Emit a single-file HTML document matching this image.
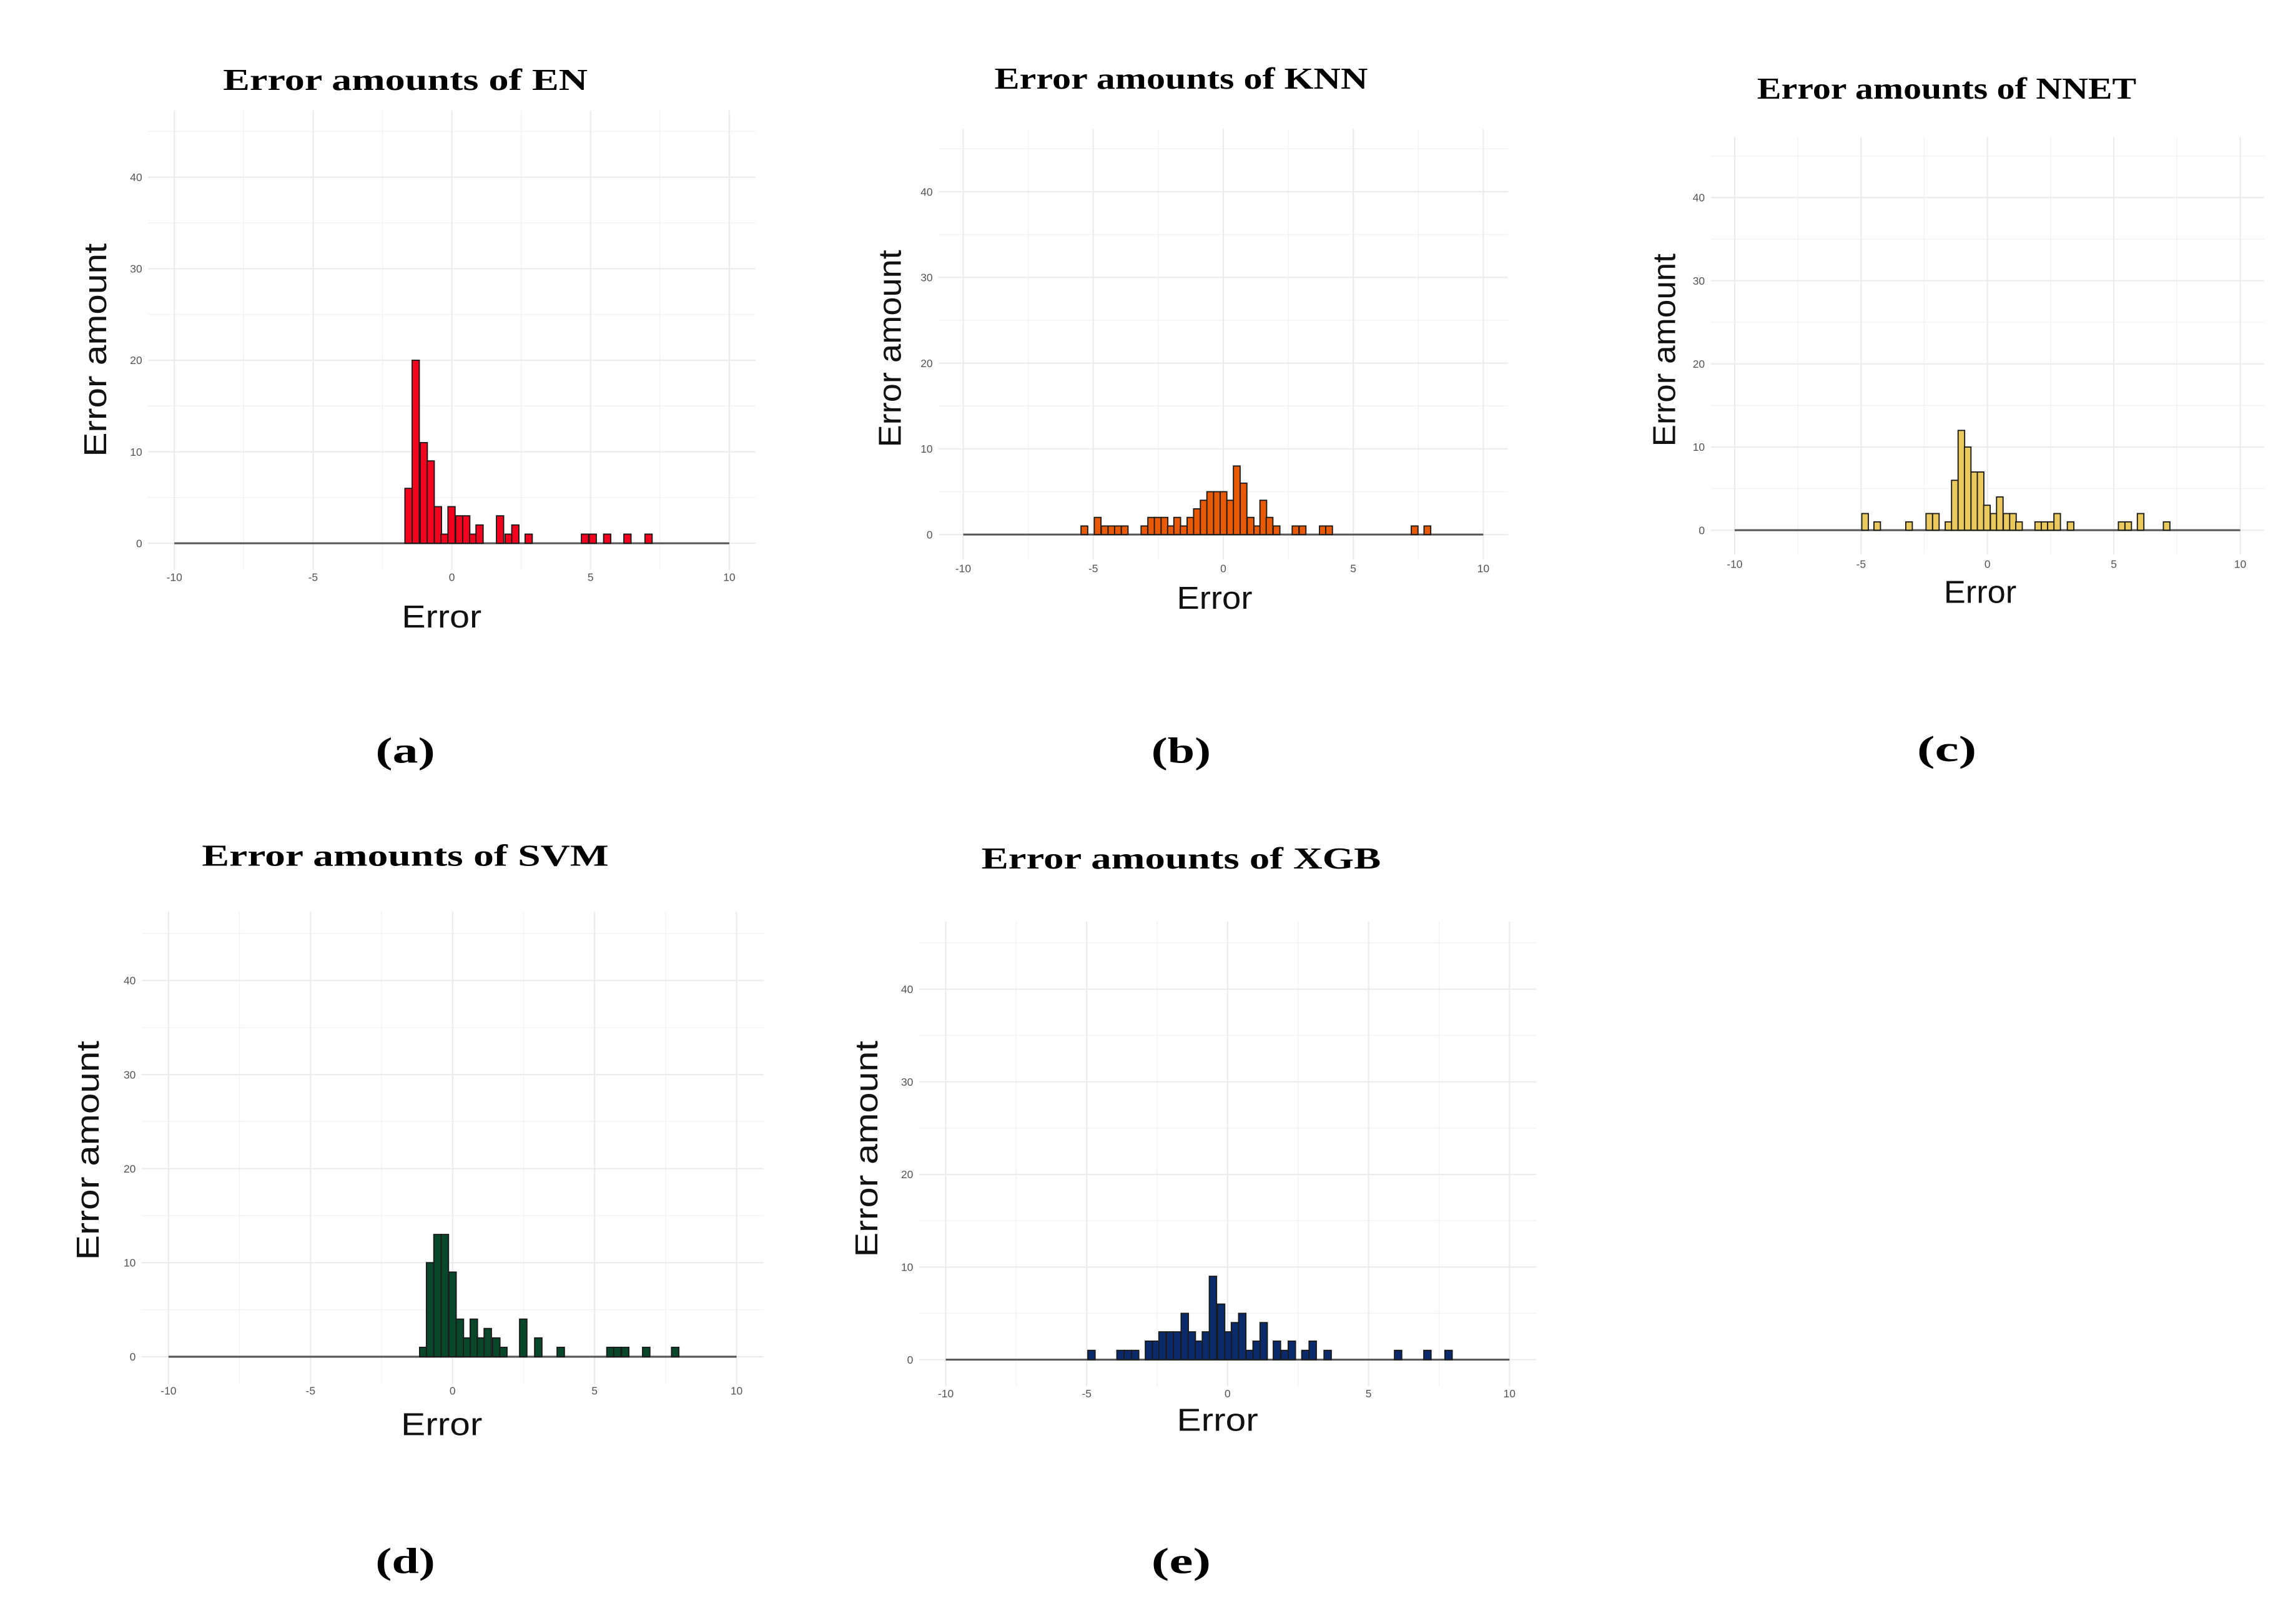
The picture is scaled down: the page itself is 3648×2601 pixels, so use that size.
<!DOCTYPE html>
<html><head><meta charset="utf-8"><style>
html,body{margin:0;padding:0;background:#fff;}
svg{display:block;}
</style></head><body>
<svg id="fig" xmlns="http://www.w3.org/2000/svg" width="3648" height="2601" viewBox="0 0 1568 1118" preserveAspectRatio="none"></svg>
<script>
// ---- data (bin left edge, count) ----
const binWidth = 0.258;
const enEdges = [-1.69,-1.43,-1.14,-0.89,-0.63,-0.39,-0.14,0.14,0.39,0.64,0.87,1.61,1.92,2.16,2.64,4.67,4.95,5.47,6.20,6.96];
const enCounts = [6,20,11,9,4,1,4,3,3,1,2,3,1,2,1,1,1,1,1,1];
const knnEdges = [-5.47,-4.96,-4.69,-4.43,-4.18,-3.92,-3.16,-2.90,-2.65,-2.39,-2.14,-1.90,-1.65,-1.39,-1.14,-0.88,-0.63,-0.37,-0.12,0.14,0.39,0.65,0.92,1.18,1.41,1.65,1.92,2.65,2.92,3.70,3.94,7.23,7.72];
const knnCounts = [1,2,1,1,1,1,1,2,2,2,1,2,1,2,3,4,5,5,5,4,8,6,2,1,4,2,1,1,1,1,1,1,1];
const nnetEdges = [-4.97,-4.49,-3.23,-2.43,-2.17,-1.67,-1.42,-1.16,-0.91,-0.65,-0.40,-0.15,0.12,0.36,0.63,0.88,1.12,1.88,2.13,2.38,2.63,3.16,5.18,5.44,5.93,6.96];
const nnetCounts = [2,1,1,2,2,1,6,12,10,7,7,3,2,4,2,2,1,1,1,1,2,1,1,1,2,1];
const svmEdges = [-1.16,-0.92,-0.66,-0.40,-0.13,0.13,0.38,0.62,0.87,1.11,1.41,1.66,2.36,2.89,3.68,5.43,5.67,5.95,6.69,7.71];
const svmCounts = [1,10,13,13,9,4,2,4,2,3,2,1,4,2,1,1,1,1,1,1];
const xgbEdges = [-4.96,-3.93,-3.67,-3.41,-2.92,-2.67,-2.44,-2.17,-1.92,-1.65,-1.40,-1.15,-0.90,-0.65,-0.36,-0.10,0.13,0.39,0.66,0.90,1.15,1.62,1.90,2.15,2.63,2.89,3.42,5.92,6.96,7.71];
const xgbCounts = [1,1,1,1,2,2,3,3,3,5,3,2,3,9,6,3,4,5,1,2,4,2,1,2,1,2,1,1,1,1];
const xTicks = [-10,-5,0,5,10];
const xTickLabels = ["-10","-5","0","5","10"];
const yTicks = [0,10,20,30,40];
const yTickLabels = ["0","10","20","30","40"];

const NS = "http://www.w3.org/2000/svg";
const svg = document.getElementById('fig');
function mk(tag, attrs, parent){
  const e = document.createElementNS(NS, tag);
  for (const k in attrs) e.setAttribute(k, attrs[k]);
  (parent||svg).appendChild(e);
  return e;
}

const panels = [
 {key:'en', title:'Error amounts of EN', edges:enEdges, counts:enCounts, color:'#f5001e',
  x0:120, x1:502, y0:374, y40:122, tx:279, ty:62, tl:251, yt:{x:65,y:241,l:147}, xt:{x:304,y:432,l:55}, cap:{x:279,y:525,t:'(a)'}},
 {key:'knn', title:'Error amounts of KNN', edges:knnEdges, counts:knnCounts, color:'#e95a00',
  x0:663, x1:1021, y0:368, y40:132, tx:813, ty:61, tl:257, yt:{x:612,y:240,l:136}, xt:{x:836,y:419,l:52}, cap:{x:813,y:525,t:'(b)'}},
 {key:'nnet', title:'Error amounts of NNET', edges:nnetEdges, counts:nnetCounts, color:'#eac95d',
  x0:1194, x1:1542, y0:365, y40:136, tx:1340, ty:68, tl:261, yt:{x:1145,y:241,l:133}, xt:{x:1363,y:415,l:50}, cap:{x:1340,y:524,t:'(c)'}},
 {key:'svm', title:'Error amounts of SVM', edges:svmEdges, counts:svmCounts, color:'#08472a',
  x0:116, x1:507, y0:934, y40:675, tx:279, ty:596, tl:280, yt:{x:60,y:792,l:151}, xt:{x:304,y:988,l:56}, cap:{x:279,y:1083,t:'(d)'}},
 {key:'xgb', title:'Error amounts of XGB', edges:xgbEdges, counts:xgbCounts, color:'#0b2a6c',
  x0:651, x1:1039, y0:936, y40:681, tx:813, ty:598, tl:275, yt:{x:596,y:791,l:149}, xt:{x:838,y:985,l:56}, cap:{x:813,y:1083,t:'(e)'}}
];

panels.forEach(p => {
  const g = mk('g', {});
  
  
  const xs = v => p.x0 + (v + 10) * (p.x1 - p.x0) / 20;
  const ys = v => p.y0 - v * (p.y0 - p.y40) / 40;
  const L = xs(-10.95), R = xs(10.95), T = ys(47.3), B = ys(-2.9);
  // grid
  for (let v = -7.5; v <= 7.5; v += 5) {
    const l = mk('line', {x1:xs(v), x2:xs(v), y1:T, y2:B, stroke:'#f2f2f2', 'stroke-width':0.6}, g);
    
    
  }
  for (let v = 5; v <= 45; v += 10) {
    const l = mk('line', {x1:L, x2:R, y1:ys(v), y2:ys(v), stroke:'#f2f2f2', 'stroke-width':0.6}, g);
    
    
  }
  xTicks.forEach((v, i) => {
    const l = mk('line', {x1:xs(v), x2:xs(v), y1:T, y2:B, stroke:'#ebebeb', 'stroke-width':0.9}, g);
    
    
    const t = mk('text', {x:xs(v), y:p.y0 + 26, 'text-anchor':'middle', 'font-size':7.5, fill:'#555', 'font-family':'"Liberation Sans", sans-serif'}, g);
    t.textContent = xTickLabels[i];
    
    
  });
  yTicks.forEach((v, i) => {
    const l = mk('line', {x1:L, x2:R, y1:ys(v), y2:ys(v), stroke:'#ebebeb', 'stroke-width':0.9}, g);
    
    
    const t = mk('text', {x:L - 4, y:ys(v) + 2.7, 'text-anchor':'end', 'font-size':7.5, fill:'#555', 'font-family':'"Liberation Sans", sans-serif'}, g);
    t.textContent = yTickLabels[i];
    
    
  });
  // baseline
  const bl = mk('line', {x1:xs(-10), x2:xs(10), y1:p.y0, y2:p.y0, stroke:'#555', 'stroke-width':1.3}, g);
  
  
  // bars
  p.edges.forEach((e, i) => {
    const x = xs(e), w = xs(e + binWidth) - x, y = ys(p.counts[i]);
    const r = mk('rect', {x:x, y:y, width:w, height:p.y0 - y, fill:p.color, stroke:'#1a1a1a', 'stroke-width':0.8}, g);
    
    
  });
  // titles
  const tt = mk('text', {x:p.tx, y:p.ty, 'text-anchor':'middle', 'font-size':21, 'font-weight':'bold', fill:'#000', 'font-family':'"Liberation Serif", serif', textLength:p.tl, lengthAdjust:'spacingAndGlyphs'}, g);
  tt.textContent = p.title;
  
  
  const yt = mk('text', {x:0, y:0, 'text-anchor':'middle', 'font-size':22, fill:'#111', 'font-family':'"Liberation Sans", sans-serif', textLength:p.yt.l, lengthAdjust:'spacingAndGlyphs', transform:'translate(' + (p.yt.x + 8) + ',' + p.yt.y + ') rotate(-90)'}, g);
  yt.textContent = 'Error amount';
  
  
  const xt = mk('text', {x:p.xt.x, y:p.xt.y, 'text-anchor':'middle', 'font-size':22, fill:'#111', 'font-family':'"Liberation Sans", sans-serif', textLength:p.xt.l, lengthAdjust:'spacingAndGlyphs'}, g);
  xt.textContent = 'Error';
  
  
  const cp = mk('text', {x:p.cap.x, y:p.cap.y, 'text-anchor':'middle', 'font-size':25, 'font-weight':'bold', fill:'#000', 'font-family':'"Liberation Serif", serif', textLength:41, lengthAdjust:'spacingAndGlyphs'}, g);
  cp.textContent = p.cap.t;
  
  
});
</script>
</body></html>
